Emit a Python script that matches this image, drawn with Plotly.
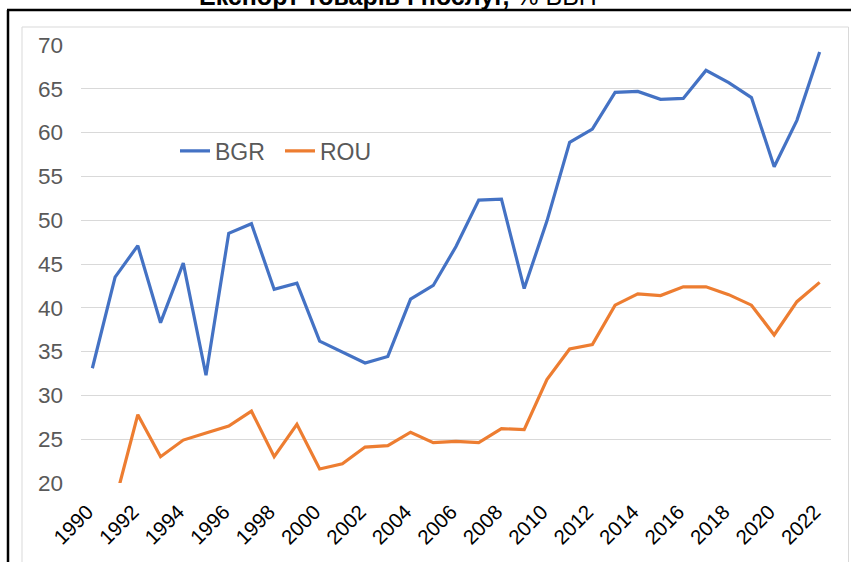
import plotly.graph_objects as go

years = list(range(1990, 2023))
bgr = [33.1, 43.5, 47.1, 38.3, 45.1, 32.3, 48.5, 49.6, 42.1, 42.8, 36.2,
       35.0, 33.7, 34.45, 41.0, 42.55, 47.0, 52.3, 52.4, 42.2, 49.9,
       58.9, 60.4, 64.6, 64.7, 63.8, 63.9, 67.1, 65.7, 64.0, 56.1, 61.4, 69.2]
rou = [None, 17.9, 27.8, 23.0, 24.9, 25.7, 26.5, 28.2, 23.0, 26.7, 21.6,
       22.2, 24.1, 24.26, 25.8, 24.6, 24.75, 24.6, 26.2, 26.1, 31.8,
       35.3, 35.8, 40.3, 41.6, 41.4, 42.4, 42.4, 41.5, 40.3, 36.9, 40.7, 42.9]
x_ticks = list(range(1990, 2023, 2))
y_ticks = list(range(20, 75, 5))
title_bold = "Експорт товарів і послуг,"
title_rest = " % ВВП"

W, H = 851, 562
ML, MR, MT, MB = 81, 20, 45, 79
pw, ph = W - ML - MR, H - MT - MB

def px(x):
    return (x - ML) / pw

def py(y):
    return (H - MB - y) / ph

fig = go.Figure()
fig.add_trace(go.Scatter(x=years, y=bgr, name="BGR", mode="lines",
                         line=dict(color="#4472C4", width=3.2)))
fig.add_trace(go.Scatter(x=years, y=rou, name="ROU", mode="lines",
                         line=dict(color="#ED7D31", width=3.2)))

shapes = [
    # light gray chart-area border
    dict(type="line", xref="paper", yref="paper", x0=px(22), x1=px(22), y0=py(27), y1=py(H + 5),
         line=dict(color="#D9D9D9", width=1)),
    dict(type="line", xref="paper", yref="paper", x0=px(22), x1=px(848.5), y0=py(27), y1=py(27),
         line=dict(color="#D9D9D9", width=1)),
    dict(type="line", xref="paper", yref="paper", x0=px(848.5), x1=px(848.5), y0=py(27), y1=py(H + 5),
         line=dict(color="#D9D9D9", width=1)),
    # black frame
    dict(type="line", xref="paper", yref="paper", x0=px(8), x1=px(8), y0=py(10), y1=py(H + 5),
         line=dict(color="black", width=2.5)),
    dict(type="line", xref="paper", yref="paper", x0=px(7), x1=px(W + 5), y0=py(10), y1=py(10),
         line=dict(color="black", width=2.5)),
]

fig.update_layout(
    width=W, height=H,
    margin=dict(l=ML, r=MR, t=MT, b=MB),
    paper_bgcolor="white", plot_bgcolor="white",
    font=dict(family="Liberation Sans, Arial, sans-serif", size=20, color="#595959"),
    showlegend=True,
    legend=dict(orientation="h", x=px(175), y=py(151), xanchor="left", yanchor="middle",
                entrywidth=60, font=dict(size=23, color="#595959"), bgcolor="rgba(0,0,0,0)"),
    shapes=shapes,
    annotations=[dict(xref="paper", yref="paper", x=px(398), y=py(11.5),
                      xanchor="center", yanchor="bottom", showarrow=False,
                      text="<b>" + title_bold + "</b>" + title_rest,
                      font=dict(size=25, color="black"))],
)
fig.update_xaxes(range=[1989.5, 2022.5], tickvals=x_ticks, ticktext=[str(t) for t in x_ticks],
                 tickangle=-45, showgrid=False, zeroline=False, showline=False,
                 tickfont=dict(size=20.5, color="black"), ticks="",
                 ticklabelstandoff=12, ticklabelshift=-5)
fig.update_yaxes(range=[20, 70], tickvals=y_ticks, showgrid=True, gridcolor="#D9D9D9",
                 gridwidth=1, zeroline=False, showline=False, ticks="",
                 tickfont=dict(size=22.5, color="#595959"), ticklabelstandoff=17)

fig.write_html("out.html", config={"displayModeBar": False},
               post_script="document.body.style.margin='0';")
